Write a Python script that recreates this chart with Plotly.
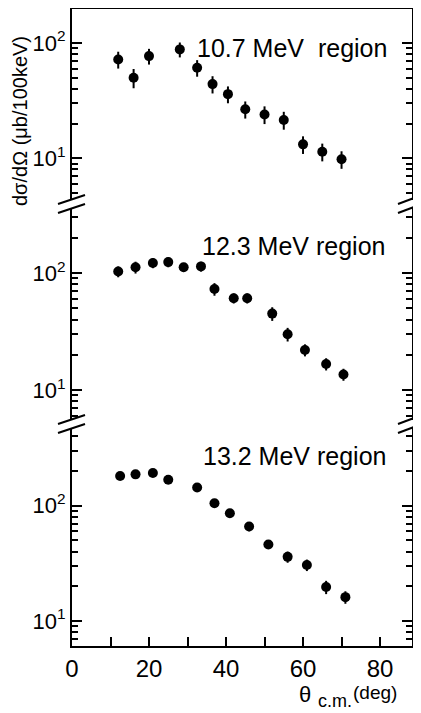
import plotly.graph_objects as go
from plotly.subplots import make_subplots

# ---------------- data ----------------
theta_107 = [12, 16, 20, 28, 32.5, 36.5, 40.5, 45, 50, 55, 60, 65, 70]
sigma_107 = [72, 50, 77, 88, 61, 44, 36, 26.6, 24, 21.5, 13.2, 11.4, 9.8]
err_107 = [12, 9.5, 12, 13, 10, 7.5, 6, 4.5, 4.2, 3.8, 2.3, 2.0, 1.7]

theta_123 = [12, 16.5, 21, 25, 29, 33.5, 37, 42, 45.5, 52, 56, 60.5, 66, 70.5]
sigma_123 = [103, 112, 122, 124, 112, 114, 73, 61, 61, 45, 30, 22, 16.7, 13.6]
err_123 = [11, 13, 12, 12, 10, 11, 9, 6, 6, 6, 4, 2.6, 2.0, 1.6]

theta_132 = [12.5, 16.5, 21, 25, 32.5, 37, 41, 46, 51, 56, 61, 66, 71]
sigma_132 = [181, 187, 192, 168, 144, 105, 86, 66, 46, 36, 30.6, 19.7, 16.1]
err_132 = [5, 5, 6, 5, 5, 4, 4, 6, 3.5, 4, 3.5, 2.6, 2.0]

panel_labels = ["10.7 MeV  region", "12.3 MeV region", "13.2 MeV region"]
x_tickvals = [0, 10, 20, 30, 40, 50, 60, 70, 80]
x_ticktext = ["0", "", "20", "", "40", "", "60", "", "80"]
y_tickvals = [10, 100]
y_ticktext = ["10<sup>1</sup>", "10<sup>2</sup>"]
y_minor = [2, 3, 4, 5, 6, 7, 8, 9, 20, 30, 40, 50, 60, 70, 80, 90, 200, 300, 400, 500]

# ---------------- geometry (screen pixels; page body has an 8px margin) ----
OFF = 8
W, H = 421 - OFF, 713 - OFF
L, R, T, B = 72, 412, 9, 646          # plot frame in screen pixels
pw, ph = R - L, B - T


def px(x):
    return (x - L) / pw


def py(y):
    return (B - y) / ph


FONT = "Liberation Sans"

fig = make_subplots(rows=3, cols=1, shared_xaxes=True, vertical_spacing=0.01)

series = [(theta_107, sigma_107, err_107),
          (theta_123, sigma_123, err_123),
          (theta_132, sigma_132, err_132)]
for i, (xs, ys, es) in enumerate(series):
    fig.add_trace(go.Scatter(
        x=xs, y=ys, mode="markers",
        marker=dict(symbol="circle", size=10, color="black"),
        error_y=dict(type="data", array=es, visible=True, color="black",
                     thickness=2, width=0),
        showlegend=False), row=i + 1, col=1)

# panel pixel extents (top, bottom) and log ranges
panels = [(T, 200, [0.638, 2.295]),
          (208, 420, [0.744, 2.556]),
          (428, B, [0.783, 2.674])]

axis_common = dict(showline=True, linewidth=2, linecolor="black",
                   ticks="inside", tickcolor="black", showgrid=False,
                   zeroline=False)

for i, (top, bot, rng) in enumerate(panels):
    yname = "yaxis" if i == 0 else f"yaxis{i + 1}"
    fig.layout[yname].update(
        type="log", range=rng, domain=[py(bot), py(top)],
        tickvals=y_tickvals, ticktext=y_ticktext,
        ticklen=10, tickwidth=2, mirror="ticks",
        tickfont=dict(family=FONT, size=22, color="black"),
        minor=dict(ticks="inside", tickvals=y_minor, ticklen=6,
                   tickwidth=1.5, tickcolor="black"),
        **axis_common)

fig.layout.xaxis.update(range=[0, 88.3], showline=True, linewidth=2,
                        linecolor="black", side="top", ticks="",
                        showticklabels=False, showgrid=False, zeroline=False)
fig.layout.xaxis2.update(range=[0, 88.3], showline=False, ticks="",
                         showticklabels=False, showgrid=False, zeroline=False)
fig.layout.xaxis3.update(range=[0, 88.3], tickvals=x_tickvals,
                         ticktext=x_ticktext, ticklen=9, tickwidth=2,
                         tickfont=dict(family=FONT, size=24, color="black"),
                         **axis_common)

# axis break marks
shapes = []
for cy in (204, 424):
    for xc, dxl, dxr in ((L, 14, 13), (R, 14, 10)):
        for off in (-4.5, 4.5):
            shapes.append(dict(type="line", xref="paper", yref="paper",
                               x0=px(xc - dxl), y0=py(cy + off + 4.5),
                               x1=px(xc + dxr), y1=py(cy + off - 4.5),
                               line=dict(color="black", width=2)))
fig.update_layout(shapes=shapes)

annotations = []
label_pos = [(195, 48), (200, 246), (201, 456)]
for text, (lx, ly) in zip(panel_labels, label_pos):
    annotations.append(dict(text=text, xref="paper", yref="paper",
                            x=px(lx), y=py(ly), xanchor="left",
                            yanchor="middle", showarrow=False,
                            font=dict(family=FONT, size=25, color="black")))
annotations.append(dict(text="dσ/dΩ (μb/100keV)", xref="paper", yref="paper",
                        x=px(20), y=py(121), textangle=-90, showarrow=False,
                        xanchor="center", yanchor="middle",
                        font=dict(family=FONT, size=20, color="black")))
annotations.append(dict(text="θ", xref="paper", yref="paper",
                        x=px(297), y=py(694), xanchor="left", yanchor="middle",
                        showarrow=False,
                        font=dict(family=FONT, size=22, color="black")))
annotations.append(dict(text="c.m.", xref="paper", yref="paper",
                        x=px(316), y=py(701), xanchor="left", yanchor="middle",
                        showarrow=False,
                        font=dict(family=FONT, size=18, color="black")))
annotations.append(dict(text="(deg)", xref="paper", yref="paper",
                        x=px(351), y=py(692), xanchor="left", yanchor="middle",
                        showarrow=False,
                        font=dict(family=FONT, size=19, color="black")))
fig.update_layout(annotations=annotations)

fig.update_layout(width=W, height=H,
                  margin=dict(l=L - OFF, r=421 - R, t=T - OFF, b=713 - B,
                              autoexpand=False),
                  paper_bgcolor="white", plot_bgcolor="white",
                  font=dict(family=FONT, color="black"))

fig.write_html("out.html")
